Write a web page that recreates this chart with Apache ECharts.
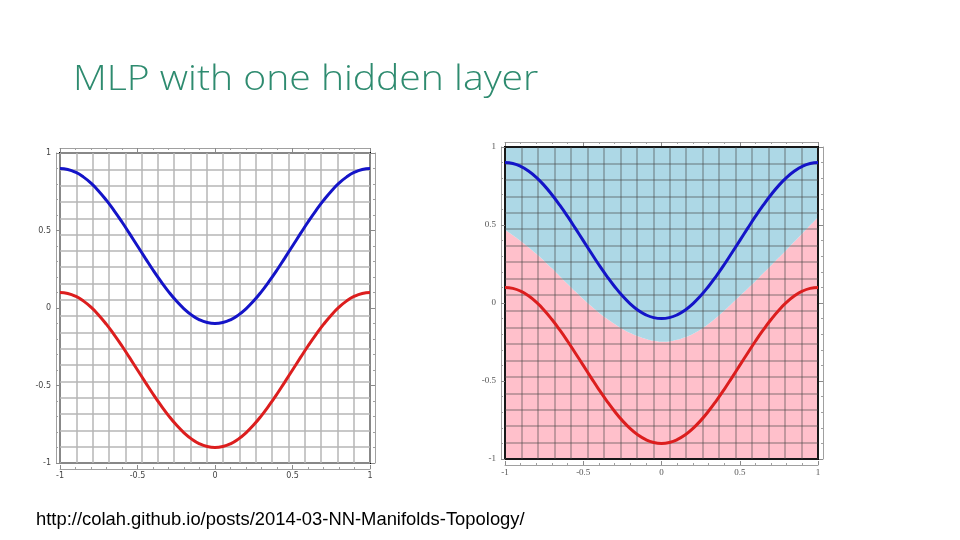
<!DOCTYPE html>
<html><head><meta charset="utf-8">
<script src="https://cdn.jsdelivr.net/npm/echarts@6/dist/echarts.min.js"></script>
<style>html,body{margin:0;padding:0;background:#fff}#c{width:960px;height:540px}</style>
</head><body><div id="c"></div>
<script>
// ---- data ----
const xs = [-1, -0.95, -0.9, -0.85, -0.8, -0.75, -0.7, -0.65, -0.6, -0.55, -0.5, -0.45, -0.4, -0.35, -0.3, -0.25, -0.2, -0.15, -0.1, -0.05, 0,
            0.05, 0.1, 0.15, 0.2, 0.25, 0.3, 0.35, 0.4, 0.45, 0.5, 0.55, 0.6, 0.65, 0.7, 0.75, 0.8, 0.85, 0.9, 0.95, 1];
const blueCurve = [0.900, 0.894, 0.876, 0.846, 0.805, 0.754, 0.694, 0.627, 0.555, 0.478, 0.400, 0.322, 0.245, 0.173, 0.106, 0.046, -0.005, -0.046, -0.076, -0.094, -0.100,
                   -0.094, -0.076, -0.046, -0.005, 0.046, 0.106, 0.173, 0.245, 0.322, 0.400, 0.478, 0.555, 0.627, 0.694, 0.754, 0.805, 0.846, 0.876, 0.894, 0.900];
const redCurve = [0.100, 0.094, 0.076, 0.046, 0.005, -0.046, -0.106, -0.173, -0.245, -0.322, -0.400, -0.478, -0.555, -0.627, -0.694, -0.754, -0.805, -0.846, -0.876, -0.894, -0.900,
                  -0.894, -0.876, -0.846, -0.805, -0.754, -0.694, -0.627, -0.555, -0.478, -0.400, -0.322, -0.245, -0.173, -0.106, -0.046, 0.005, 0.046, 0.076, 0.094, 0.100];
const boundary = [0.470, 0.435, 0.398, 0.358, 0.315, 0.270, 0.222, 0.172, 0.122, 0.073, 0.025, -0.020, -0.062, -0.100, -0.135, -0.166, -0.192, -0.213, -0.230, -0.242, -0.248,
                  -0.246, -0.236, -0.220, -0.198, -0.170, -0.135, -0.095, -0.050, -0.003, 0.045, 0.092, 0.140, 0.190, 0.240, 0.291, 0.342, 0.394, 0.446, 0.498, 0.550];
const axisMin = -1, axisMax = 1, axisStep = 0.5;
const gridCells = 19;
const titleText = 'MLP with one hidden layer';
const sourceText = 'http://colah.github.io/posts/2014-03-NN-Manifolds-Topology/';

const pairs = ys => xs.map((x, i) => [x, ys[i]]);
const chart = echarts.init(document.getElementById('c'));

function mainAxis(gi, pos, offset, showLabel, lab) {
  return {
    type: 'value', gridIndex: gi, position: pos, offset: offset,
    min: axisMin, max: axisMax, interval: axisStep,
    axisLine: {show: true, onZero: false, lineStyle: {color: '#a0a0a0', width: 1}},
    axisTick: {show: true, inside: true, length: 4, lineStyle: {color: '#8a8a8a'}},
    minorTick: {show: true, splitNumber: 5, length: 2, lineStyle: {color: '#a0a0a0'}},
    axisLabel: Object.assign({show: showLabel}, lab),
    splitLine: {show: false}
  };
}
function cellAxis(gi, pos, color, width) {
  return {
    type: 'value', gridIndex: gi, position: pos, min: 0, max: gridCells, interval: 1,
    axisLine: {show: false, onZero: false}, axisTick: {show: false}, axisLabel: {show: false},
    splitLine: {show: true, lineStyle: {color: color, width: width}}
  };
}
const labL = {fontSize: 8, color: '#444', fontFamily: 'DejaVu Sans'};
const labR = {fontSize: 9, color: '#555', fontFamily: 'Liberation Serif'};
const lineL = 'rgb(182,182,182)';
const lineR = 'rgba(70,70,70,0.45)';

chart.setOption({
  animation: false,
  graphic: [
    {type: 'text', x: 73, y: 63, scaleX: 1.15,
      style: {text: titleText, font: '300 34px "Open Sans"', fill: '#2e8b6f', textVerticalAlign: 'top'}},
    {type: 'text', left: 36, top: 511,
      style: {text: sourceText, font: '18.4px "Liberation Sans"', fill: '#000'}}
  ],
  grid: [
    {left: 60, top: 153, width: 310, height: 310, show: true, borderColor: '#000', borderWidth: 2, backgroundColor: 'transparent'},
    {left: 505, top: 147, width: 313, height: 312, show: true, borderColor: '#000', borderWidth: 2, backgroundColor: 'transparent'}
  ],
  xAxis: [
    mainAxis(0, 'bottom', 6, true, Object.assign({margin: 3}, labL)),
    mainAxis(0, 'top', 5, false, {}),
    cellAxis(0, 'bottom', lineL, 1.5),
    mainAxis(1, 'bottom', 6, true, Object.assign({margin: 3}, labR)),
    mainAxis(1, 'top', 5, false, {}),
    cellAxis(1, 'bottom', lineR, 1.5)
  ],
  yAxis: [
    mainAxis(0, 'left', 4, true, Object.assign({margin: 5}, labL)),
    mainAxis(0, 'right', 5, false, {}),
    cellAxis(0, 'left', lineL, 1.5),
    mainAxis(1, 'left', 4, true, Object.assign({margin: 5}, labR)),
    mainAxis(1, 'right', 5, false, {}),
    cellAxis(1, 'left', lineR, 1.5)
  ],
  series: [
    {type: 'line', xAxisIndex: 0, yAxisIndex: 0, data: pairs(blueCurve), smooth: true, showSymbol: false,
      lineStyle: {color: '#1414c8', width: 3}},
    {type: 'line', xAxisIndex: 0, yAxisIndex: 0, data: pairs(redCurve), smooth: true, showSymbol: false,
      lineStyle: {color: '#dc1e1e', width: 3}},
    {type: 'line', xAxisIndex: 3, yAxisIndex: 3, data: pairs(boundary), smooth: true, showSymbol: false, z: -1,
      lineStyle: {width: 0}, areaStyle: {color: '#ffc0cb', opacity: 1, origin: 'start'}},
    {type: 'line', xAxisIndex: 3, yAxisIndex: 3, data: pairs(boundary), smooth: true, showSymbol: false, z: -1,
      lineStyle: {width: 0}, areaStyle: {color: '#add8e6', opacity: 1, origin: 'end'}},
    {type: 'line', xAxisIndex: 3, yAxisIndex: 3, data: pairs(blueCurve), smooth: true, showSymbol: false,
      lineStyle: {color: '#1414c8', width: 3}},
    {type: 'line', xAxisIndex: 3, yAxisIndex: 3, data: pairs(redCurve), smooth: true, showSymbol: false,
      lineStyle: {color: '#dc1e1e', width: 3}}
  ]
});
</script></body></html>
